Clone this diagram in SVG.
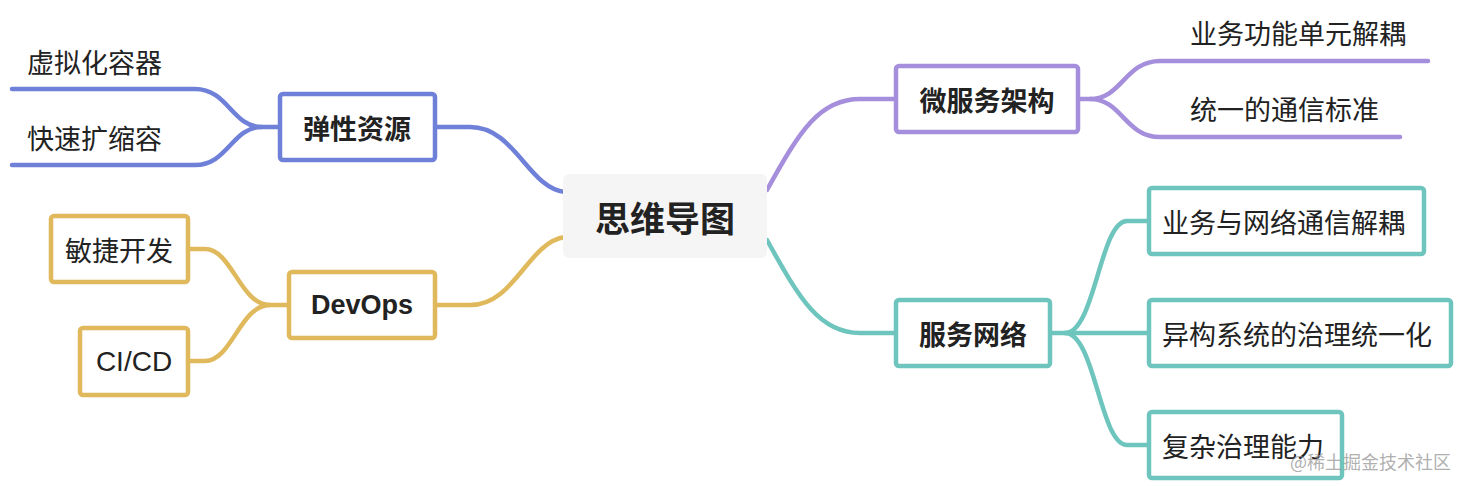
<svg xmlns="http://www.w3.org/2000/svg" width="1468" height="486" viewBox="0 0 1468 486">
<style>
.t{font-family:"Noto Sans CJK SC","Liberation Sans",sans-serif;font-size:27px;fill:#222;dominant-baseline:central;}
.c{text-anchor:middle;}
.b{font-weight:bold;}
.box{fill:#fff;stroke-width:4.5;}
.ln{fill:none;stroke-width:4.5;stroke-linecap:round;stroke-linejoin:round;}
.blue{stroke:#6f80d8;}
.gold{stroke:#e0b95c;}
.purple{stroke:#a58edc;}
.teal{stroke:#6ec5be;}
</style>
<rect width="1468" height="486" fill="#fff"/>
<g id="connectors">
<path class="ln blue" d="M435,127 L470,127 C515,127 528,188 565,192"/>
<path class="ln blue" d="M278,127 L262,127 C232,127 228,89 195,89 L12,89"/>
<path class="ln blue" d="M262,127 C232,127 228,165 195,165 L12,165"/>
<path class="ln gold" d="M435,305 L470,305 C515,305 528,242 565,237"/>
<path class="ln gold" d="M287,305 L270,305 C240,305 232,249 205,249 L188,249"/>
<path class="ln gold" d="M270,305 C240,305 232,361 205,361 L188,361"/>
<path class="ln purple" d="M767,190 C800,130 820,99 860,99 L895,99"/>
<path class="ln purple" d="M1078,99 L1090,99 C1122,99 1125,61 1160,61 L1428,61"/>
<path class="ln purple" d="M1090,99 C1122,99 1125,137 1160,137 L1400,137"/>
<path class="ln teal" d="M767,240 C800,300 820,333 860,333 L895,333"/>
<path class="ln teal" d="M1050,333 L1065,333 C1095,333 1100,221 1127,221 L1147,221"/>
<path class="ln teal" d="M1065,333 L1147,333"/>
<path class="ln teal" d="M1065,333 C1095,333 1100,445 1127,445 L1147,445"/>
</g>
<g id="root">
<rect x="563" y="174" width="204" height="84" rx="6" fill="#f5f5f5"/>
<text class="t c b" x="665" y="216" style="font-size:35px">思维导图</text>
</g>
<g id="n-tanxing">
<rect class="box blue" x="280" y="94" width="155" height="66" rx="3"/>
<text class="t c b" x="357" y="127">弹性资源</text>
</g>
<g id="n-xuni">
<text class="t" x="27" y="61">虚拟化容器</text>
</g>
<g id="n-kuaisu">
<text class="t" x="27" y="137">快速扩缩容</text>
</g>
<g id="n-devops">
<rect class="box gold" x="289" y="272" width="146" height="66" rx="3"/>
<text class="t c b" x="362" y="305" style="font-family:'Liberation Sans','Noto Sans CJK SC',sans-serif">DevOps</text>
</g>
<g id="n-minjie">
<rect class="box gold" x="51" y="216" width="137" height="66" rx="3"/>
<text class="t c" x="119" y="249">敏捷开发</text>
</g>
<g id="n-cicd">
<rect class="box gold" x="80" y="328" width="108" height="67" rx="3"/>
<text class="t c" x="134" y="361" style="font-family:'Liberation Sans','Noto Sans CJK SC',sans-serif;font-size:28px">CI/CD</text>
</g>
<g id="n-weifuwu">
<rect class="box purple" x="896" y="66" width="182" height="66" rx="3"/>
<text class="t c b" x="987" y="99">微服务架构</text>
</g>
<g id="n-yewugongneng">
<text class="t" x="1190" y="32">业务功能单元解耦</text>
</g>
<g id="n-tongyi">
<text class="t" x="1190" y="108">统一的通信标准</text>
</g>
<g id="n-fuwuwangluo">
<rect class="box teal" x="896" y="300" width="154" height="66" rx="3"/>
<text class="t c b" x="973" y="333">服务网络</text>
</g>
<g id="n-yewuyu">
<rect class="box teal" x="1149" y="188" width="275" height="66" rx="3"/>
<text class="t" x="1162" y="221">业务与网络通信解耦</text>
</g>
<g id="n-yigou">
<rect class="box teal" x="1149" y="300" width="302" height="66" rx="3"/>
<text class="t" x="1162" y="333">异构系统的治理统一化</text>
</g>
<g id="n-fuza">
<rect class="box teal" x="1149" y="412" width="193" height="66" rx="3"/>
<text class="t" x="1162" y="445">复杂治理能力</text>
</g>
<text x="1290" y="461" style="font-family:'Noto Sans CJK SC','Liberation Sans',sans-serif;font-size:18px;fill:#9a9a9a;fill-opacity:0.8;dominant-baseline:central">@稀土掘金技术社区</text>
</svg>
